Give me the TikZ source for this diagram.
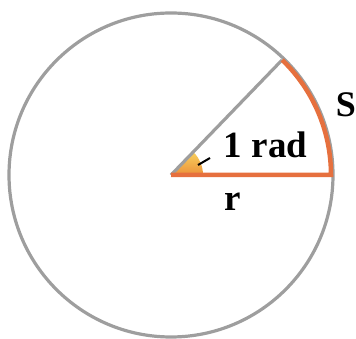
\documentclass[tikz,border=0pt]{standalone}
\usepackage{fontspec}
\setmainfont{Liberation Serif}
\definecolor{circgrey}{RGB}{158,158,158}
\definecolor{arcorange}{RGB}{230,112,62}
\definecolor{angyellow}{RGB}{246,196,52}
\begin{document}
\begin{tikzpicture}[x=1pt,y=1pt,
  greyline/.style={draw=circgrey,line width=3.2pt},
  orangeline/.style={draw=arcorange,line width=4.5pt},
  lbl/.style={font=\bfseries,inner sep=0pt,anchor=base}]
\useasboundingbox (0,0) rectangle (356,339);
\coordinate (O) at (171,164);
\coordinate (A) at ([shift={(O)}]46:160pt);
\coordinate (B) at ([shift={(O)}]0:160pt);
% yellow angle sector
\shade[top color=angyellow!80!white,bottom color=arcorange!60!angyellow] (O) -- ([shift={(O)}]0:32pt) arc[start angle=0,end angle=46,radius=32pt] -- cycle;
% circle
\draw[greyline] (O) circle[radius=162pt];
% grey radius
\draw[greyline] (O) -- (A);
% orange radius and arc
\draw[orangeline,line join=miter] (O) -- (B) arc[start angle=0,end angle=46,radius=160pt];
% tick pointer
\coordinate (T1) at (198,174);
\coordinate (T2) at (210,181);
\draw[black,line width=2pt] (T1) -- (T2);
% labels
\node[lbl,font=\bfseries\fontsize{37}{40}\selectfont] (rad) at (265.5,181) {1 rad};
\node[lbl,font=\bfseries\fontsize{36}{40}\selectfont] (S) at (346,222) {S};
\node[lbl,font=\bfseries\fontsize{37}{40}\selectfont] (r) at (232.5,128) {r};
\end{tikzpicture}
\end{document}
